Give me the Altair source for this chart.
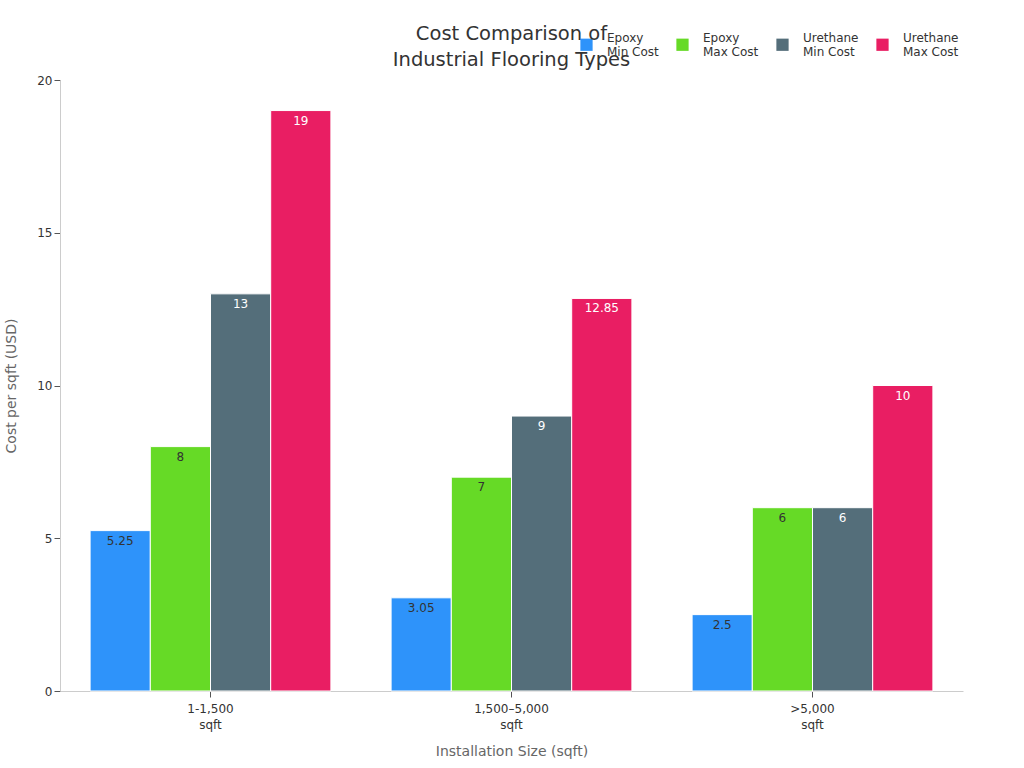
import altair as alt
import pandas as pd

categories = ["1-1,500\nsqft", "1,500–5,000\nsqft", ">5,000\nsqft"]
series = ["Epoxy\nMin Cost", "Epoxy\nMax Cost", "Urethane\nMin Cost", "Urethane\nMax Cost"]
colors = ["#2E93FA", "#66DA26", "#546E7A", "#E91E63"]
label_colors = ["#333333", "#333333", "#FFFFFF", "#FFFFFF"]
epoxy_min = [5.25, 3.05, 2.5]
epoxy_max = [8, 7, 6]
urethane_min = [13, 9, 6]
urethane_max = [19, 12.85, 10]

vals = [epoxy_min, epoxy_max, urethane_min, urethane_max]
rows = []
for si, s in enumerate(series):
    for ci, c in enumerate(categories):
        rows.append({"cat": c, "series": s, "value": vals[si][ci],
                     "label": f"{vals[si][ci]:g}", "lc": label_colors[si]})
df = pd.DataFrame(rows)

FONT = "DejaVu Sans"
split_expr = "split(datum.label, '\\n')"

base = alt.Chart(df)
x = alt.X("cat:N", sort=categories,
          scale=alt.Scale(paddingInner=0.2, paddingOuter=0.1),
          axis=alt.Axis(title="Installation Size (sqft)", labelAngle=0,
                        labelExpr=split_expr, labelFontSize=12, labelColor="#333333",
                        titleFontSize=14, titleColor="#666666", titleFontWeight="normal",
                        titlePadding=14, labelPadding=6,
                        domainColor="#cccccc", tickColor="#555555", tickSize=6,
                        labelLineHeight=16))
xo = alt.XOffset("series:N", sort=series, scale=alt.Scale(paddingInner=0, paddingOuter=0))

bars = base.mark_bar(stroke="white", strokeWidth=1).encode(
    x=x, xOffset=xo,
    y=alt.Y("value:Q", scale=alt.Scale(domain=[0, 20]),
            axis=alt.Axis(title="Cost per sqft (USD)", values=[0, 5, 10, 15, 20],
                          grid=False, labelFontSize=12, labelColor="#333333",
                          titleFontSize=14, titleColor="#666666", titleFontWeight="normal",
                          titlePadding=18, domainColor="#cccccc", tickColor="#555555",
                          tickSize=6)),
    color=alt.Color("series:N", sort=series,
                    scale=alt.Scale(domain=series, range=colors),
                    legend=alt.Legend(title=None, orient="none", direction="horizontal",
                                      columns=4, legendX=520, legendY=-42,
                                      symbolType="square", symbolSize=150,
                                      symbolStrokeWidth=0,
                                      labelExpr=split_expr, labelFontSize=12,
                                      labelBaseline="bottom",
                                      labelColor="#333333", labelOffset=14,
                                      columnPadding=17, labelLimit=200)),
)

text = base.mark_text(baseline="top", dy=5, fontSize=12, font=FONT).encode(
    x=x, xOffset=xo, y="value:Q", text="label:N",
    color=alt.Color("lc:N", scale=None),
)

chart = alt.layer(bars, text).properties(
    width=903, height=611,
    autosize=alt.AutoSizeParams(type="none"),
    padding={"left": 60, "top": 80, "right": 61, "bottom": 77},
    title=alt.TitleParams(["Cost Comparison of", "Industrial Flooring Types"],
                          fontSize=19.5, fontWeight="normal", color="#333333",
                          font=FONT, anchor="middle", lineHeight=26, offset=-32),
).configure(font=FONT).configure_view(stroke=None)

chart.save("out.html", embed_options={"renderer": "svg", "actions": False})
